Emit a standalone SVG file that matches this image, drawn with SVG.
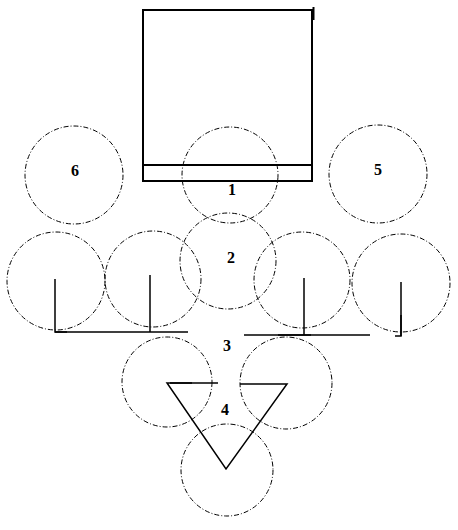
<svg xmlns="http://www.w3.org/2000/svg" width="458" height="530" viewBox="0 0 458 530">
<style>
.c{fill:none;stroke:#000;stroke-width:1;stroke-dasharray:5 2 1 2}
.l{fill:none;stroke:#000;stroke-width:1.5}
.t{font-family:"Liberation Serif",serif;font-weight:bold;font-size:16px;text-anchor:middle;fill:#000}
</style>
<rect width="458" height="530" fill="#fff"/>
<g id="box">
<rect x="143" y="10" width="169" height="171" fill="none" stroke="#000" stroke-width="2"/>
<line x1="143" y1="165" x2="312" y2="165" stroke="#000" stroke-width="2"/>
<line x1="313.5" y1="7" x2="313.5" y2="20" stroke="#000" stroke-width="2"/>
</g>
<g id="node1"><circle class="c" cx="230" cy="175" r="48"/><text class="t" x="232" y="195">1</text></g>
<g id="node6"><circle class="c" cx="74" cy="175" r="49"/><text class="t" x="75" y="176">6</text></g>
<g id="node5"><circle class="c" cx="378" cy="174" r="49"/><text class="t" x="378" y="175">5</text></g>
<g id="node2"><circle class="c" cx="228" cy="261" r="48"/><text class="t" x="231" y="263">2</text></g>
<g id="node3">
<circle class="c" cx="56" cy="281" r="49"/>
<circle class="c" cx="153" cy="279" r="48"/>
<circle class="c" cx="302" cy="280" r="48"/>
<circle class="c" cx="401" cy="283" r="49"/>
<text class="t" x="227" y="351">3</text>
</g>
<g id="node4">
<circle class="c" cx="167" cy="382" r="45"/>
<circle class="c" cx="286" cy="383" r="46"/>
<circle class="c" cx="227" cy="470" r="46"/>
<text class="t" x="225" y="415">4</text>
</g>
<g id="connectors">
<polyline class="l" points="55,279 55,332 188,332"/>
<line class="l" x1="55" y1="332" x2="67" y2="332" stroke-width="2.5"/>
<line class="l" x1="150" y1="275" x2="150" y2="332"/>
<line class="l" x1="244" y1="335" x2="370" y2="335"/>
<line class="l" x1="278" y1="335" x2="311" y2="335" stroke-width="2.5"/>
<line class="l" x1="304" y1="278" x2="304" y2="335"/>
<polyline class="l" points="401,282 401,336 395,336"/>
<line class="l" x1="401" y1="315" x2="401" y2="336" stroke-width="2.5"/>
<polyline class="l" points="218,383 167,383 226,469 287,384 240,384"/>
<line class="l" x1="170" y1="383" x2="192" y2="383" stroke-width="2.5"/>
</g>
</svg>
